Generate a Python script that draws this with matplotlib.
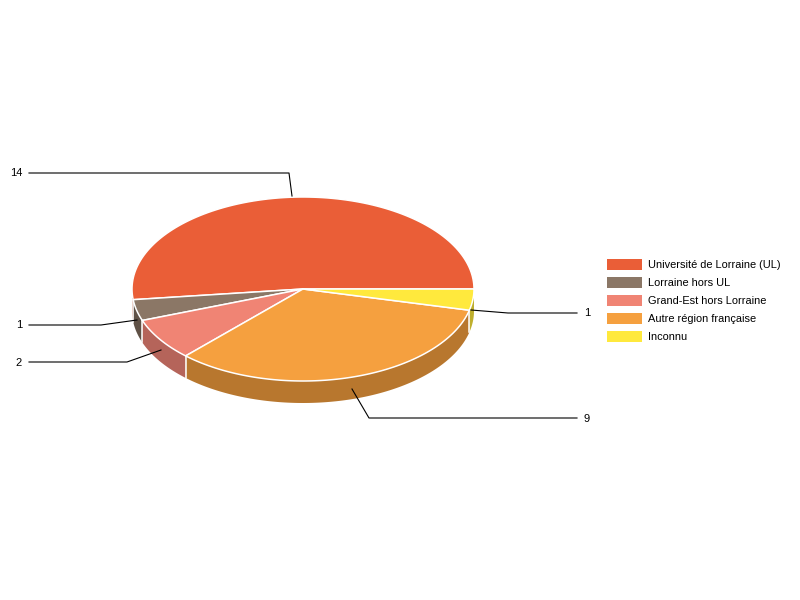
import numpy as np
import matplotlib
matplotlib.use("Agg")
import matplotlib.pyplot as plt
from matplotlib.patches import Polygon, Rectangle

plt.rcParams['font.family'] = ['Liberation Sans', 'DejaVu Sans']

# data
categories = ["Université de Lorraine (UL)", "Lorraine hors UL", "Grand-Est hors Lorraine",
              "Autre région française", "Inconnu"]
values = [14, 1, 2, 9, 1]
colors = ["#EA5E37", "#8B7766", "#F08474", "#F5A03F", "#FFE93D"]
side_colors = ["#B24727", "#5F5146", "#B5645A", "#B8772E", "#BFAF2D"]

# layout in pixels
cx, cy = 303, 289
rx, ry = 171, 92
depth = 22

# leader lines: slice index -> (elbow, end, label pos, ha)
leaders = {
    0: ((289, 173), (29, 173), (22, 173.5), "right"),
    1: ((101, 325), (29, 325), (22, 325.5), "right"),
    2: ((127, 362), (29, 362), (22, 362.5), "right"),
    3: ((369, 418), (577, 418), (584, 418.5), "left"),
    4: ((508, 313), (577, 313), (584, 313.5), "left"),
}
# where the leader touches the pie
leader_starts = {0: (292, 196), 1: (137, 320), 2: (161, 350), 3: (352, 389), 4: (471, 310)}


def rim(a0, a1, n=120):
    t = np.radians(np.linspace(a0, a1, n))
    return cx + rx * np.cos(t), cy + ry * np.sin(t)


fig = plt.figure(figsize=(8, 6), dpi=100)
ax = fig.add_axes([0, 0, 1, 1])
ax.set_xlim(0, 800)
ax.set_ylim(600, 0)
ax.axis("off")

# slices go anticlockwise on screen from 3 o'clock, y is down so negate
edges = -np.cumsum([0] + values) / sum(values) * 360

# side walls first, only the front half is visible
for i in range(len(values)):
    a0, a1 = edges[i] % 360, edges[i + 1] % 360
    if a0 == 0:
        a0 = 360
    lo, hi = a1, min(a0, 180)
    if lo >= hi:
        continue
    x, y = rim(lo, hi)
    xs = np.concatenate([x, x[::-1]])
    ys = np.concatenate([y, y[::-1] + depth])
    ax.add_patch(Polygon(np.column_stack([xs, ys]), closed=True, facecolor=side_colors[i],
                         edgecolor="none", zorder=2))
    # white seam at slice boundary
    if 0 < lo < 180:
        px, py = rim(lo, lo, 1)
        ax.plot([px[0], px[0]], [py[0], py[0] + depth], color="white", lw=1.1, zorder=3)

# top faces
for i in range(len(values)):
    x, y = rim(edges[i], edges[i + 1])
    xs = np.concatenate([[cx], x])
    ys = np.concatenate([[cy], y])
    ax.add_patch(Polygon(np.column_stack([xs, ys]), closed=True, facecolor=colors[i],
                         edgecolor="white", linewidth=1.1, joinstyle="round", zorder=4))

# leaders and value labels
for i, v in enumerate(values):
    elbow, end, lab, ha = leaders[i]
    st = leader_starts[i]
    ax.plot([st[0], elbow[0], end[0]], [st[1], elbow[1], end[1]], color="black", lw=0.8, zorder=5)
    ax.text(lab[0], lab[1], str(v), ha=ha, va="center", fontsize=8, color="black")

# legend
for i, name in enumerate(categories):
    yc = 264 + i * 18.1
    ax.add_patch(Rectangle((607, yc - 5.5), 35, 11, facecolor=colors[i], edgecolor="none", zorder=2))
    ax.text(648, yc + 0.5, name, ha="left", va="center", fontsize=7.9, color="black")

fig.savefig("out.png", dpi=100)
